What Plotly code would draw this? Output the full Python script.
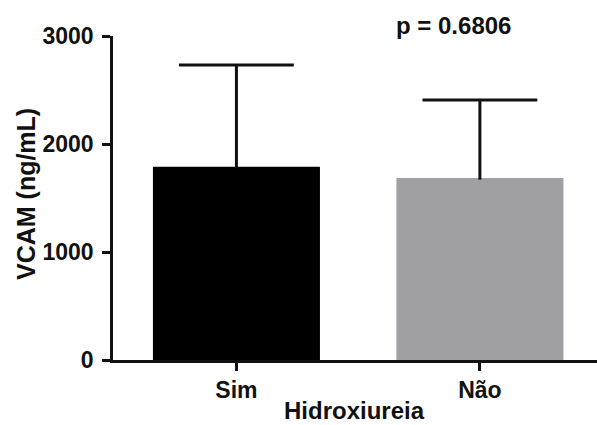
import plotly.graph_objects as go

# Group means and standard deviations of VCAM by hydroxyurea use
groups = ["Sim", "Não"]
means = [1790, 1685]
sds = [941, 722]
bar_colors = ["#000000", "#a0a0a4"]
y_ticks = [0, 1000, 2000, 3000]
p_label = "p = 0.6806"

FONT = "Liberation Sans, Arial, sans-serif"
INK = "#111111"

fig = go.Figure()

fig.add_trace(
    go.Bar(
        x=groups,
        y=means,
        width=0.686,
        marker=dict(color=bar_colors, line=dict(width=0)),
        hoverinfo="skip",
    )
)

# One-sided (upper) SD whiskers: stem from the bar top to mean + SD
stem_x, stem_y = [], []
for g, m, s in zip(groups, means, sds):
    stem_x += [g, g, None]
    stem_y += [m - 15, m + s, None]
fig.add_trace(
    go.Scatter(
        x=stem_x, y=stem_y, mode="lines",
        line=dict(color=INK, width=3),
        hoverinfo="skip",
    )
)

# Caps at the whisker ends
fig.add_trace(
    go.Scatter(
        x=groups,
        y=[m + s for m, s in zip(means, sds)],
        mode="markers",
        marker=dict(symbol="line-ew", size=82, line=dict(color=INK, width=3)),
        hoverinfo="skip",
    )
)

fig.update_layout(
    width=597,
    height=425,
    margin=dict(l=113, r=0, t=36, b=65),
    plot_bgcolor="white",
    paper_bgcolor="white",
    showlegend=False,
    font=dict(family=FONT, color=INK, size=23, weight="bold"),
    xaxis=dict(
        type="category",
        range=[-0.507, 1.481],
        showline=True,
        linecolor=INK,
        linewidth=2.5,
        ticks="outside",
        ticklen=8,
        tickwidth=2.5,
        tickcolor=INK,
        ticklabelstandoff=0,
        tickfont=dict(family=FONT, size=23, weight="bold"),
        showgrid=False,
        zeroline=False,
    ),
    yaxis=dict(
        range=[0, 3000],
        tickvals=y_ticks,
        showline=True,
        linecolor=INK,
        linewidth=2.5,
        ticks="outside",
        ticklen=8,
        tickwidth=2.5,
        tickcolor=INK,
        ticklabelstandoff=4,
        tickfont=dict(family=FONT, size=23, weight="bold"),
        showgrid=False,
        zeroline=False,
    ),
    annotations=[
        dict(
            text="Hidroxiureia",
            xref="paper", yref="paper",
            x=(354.5 - 113) / 484, y=-(410 - 360) / 324,
            xanchor="center", yanchor="middle",
            showarrow=False,
            font=dict(family=FONT, size=24, weight="bold"),
        ),
        dict(
            text="VCAM (ng/mL)",
            xref="paper", yref="paper",
            x=-(113 - 26) / 484, y=(360 - 194) / 324,
            xanchor="center", yanchor="middle",
            textangle=-90,
            showarrow=False,
            font=dict(family=FONT, size=25, weight="bold"),
        ),
        dict(
            text=p_label,
            xref="paper", yref="paper",
            x=(453 - 113) / 484, y=(360 - 25) / 324,
            xanchor="center", yanchor="middle",
            showarrow=False,
            font=dict(family=FONT, size=24, weight="bold"),
        ),
    ],
)

fig.write_html("out.html")
